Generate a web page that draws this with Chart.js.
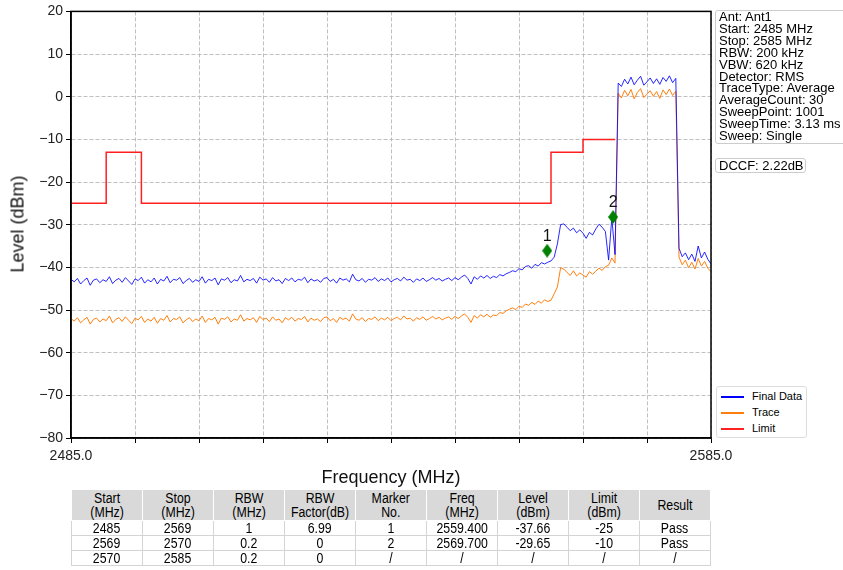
<!DOCTYPE html>
<html lang="en">
<head>
<meta charset="UTF-8">
<title>Spectrum Plot</title>
<script src="https://cdn.jsdelivr.net/npm/chart.js"></script>
<style>
  * { margin: 0; padding: 0; box-sizing: border-box; }
  body { background: #fff; font-family: "Liberation Sans", Arial, sans-serif; color: #000; }
  #wrap { position: relative; width: 843px; height: 570px; overflow: hidden; }
  #chart { position: absolute; left: 0; top: 0; }
  .ytitle { position: absolute; left: 18px; top: 224px; transform: translate(-50%, -50%) rotate(-90deg); font-size: 18px; white-space: nowrap; color: #111; }
  .xtitle { position: absolute; left: 391px; top: 477px; transform: translate(-50%, -50%); font-size: 18px; white-space: nowrap; color: #111; }
  .info { position: absolute; left: 715px; top: 10px; width: 132px; height: 134px; border: 1px solid #ccc; border-radius: 3px; font-size: 13px; line-height: 11.9px; padding: 0 0 0 3px; white-space: nowrap; }
  .dccf { position: absolute; left: 715px; top: 158px; width: 91px; height: 15px; border: 1px solid #ccc; border-radius: 3px; font-size: 13px; line-height: 13px; padding-left: 3px; white-space: nowrap; }
  .legend { position: absolute; left: 716px; top: 386px; width: 91px; height: 52px; border: 1px solid #ddd; border-radius: 3px; font-size: 11px; background: #fff; }
  .legend div { position: absolute; left: 4px; height: 12px; line-height: 12px; white-space: nowrap; }
  .legend span { display: inline-block; width: 23px; height: 1.5px; vertical-align: middle; margin-right: 8px; }
  table.res { position: absolute; left: 71px; top: 489px; width: 640px; border-collapse: collapse; table-layout: fixed; font-size: 14px; }
  table.res th { background: #d9d9d9; height: 31px; border: 1px solid #fff; font-weight: normal; line-height: 14px; }
  table.res td { height: 15px; border: 1px solid #d4d4d4; text-align: center; line-height: 13px; }
  table.res th span, table.res td span { display: inline-block; transform: scaleX(0.88); }
</style>
</head>
<body>
<div id="wrap">
  <canvas id="chart" width="843" height="570"></canvas>
  <div class="ytitle">Level (dBm)</div>
  <div class="xtitle">Frequency (MHz)</div>
  <div class="info">Ant: Ant1<br>Start: 2485 MHz<br>Stop: 2585 MHz<br>RBW: 200 kHz<br>VBW: 620 kHz<br>Detector: RMS<br>TraceType: Average<br>AverageCount: 30<br>SweepPoint: 1001<br>SweepTime: 3.13 ms<br>Sweep: Single</div>
  <div class="dccf">DCCF: 2.22dB</div>
  <div class="legend">
    <div style="top:3px"><span style="background:#0000ff"></span>Final Data</div>
    <div style="top:19px"><span style="background:#ff7f0e"></span>Trace</div>
    <div style="top:35px"><span style="background:#ff2020"></span>Limit</div>
  </div>
  <table class="res" id="res"></table>
</div>
<script>
// sweep sampling (MHz)
const FREQ_START = 2485;
const FREQ_STEP = 0.5;

// Final Data (dBm), one value per 0.5 MHz from 2485 to 2585
const finalData = [
  -42.8, -43.4, -42.6, -43.9, -43.1, -42.5, -44.2, -43.0, -42.7, -43.6,
  -42.9, -43.3, -42.2, -43.8, -43.0, -42.6, -43.5, -42.4, -43.2, -44.0,
  -42.7, -43.1, -42.3, -43.7, -42.9, -43.4, -42.5, -43.9, -42.8, -43.2,
  -42.1, -43.6, -42.8, -43.0, -42.4, -43.8, -43.1, -42.6, -43.5, -42.9,
  -43.3, -42.2, -43.7, -42.8, -43.1, -42.5, -44.1, -42.7, -43.0, -42.4,
  -43.6, -42.9, -43.2, -41.9, -43.4, -42.8, -43.1, -42.6, -43.7, -42.3,
  -43.0, -42.7, -43.5, -42.4, -43.2, -42.9, -43.8, -42.6, -43.1, -42.5,
  -43.4, -42.8, -43.0, -42.3, -43.6, -42.7, -43.2, -42.9, -43.5, -42.6,
  -42.4, -43.3, -42.8, -43.7, -42.5, -43.0, -42.7, -43.4, -41.6, -42.9,
  -43.2, -42.6, -43.5, -42.8, -43.0, -42.4, -43.3, -42.7, -43.1, -42.5,
  -43.4, -42.9, -42.6, -43.2, -42.3, -43.0, -42.8, -43.5, -42.7, -43.1,
  -42.5, -43.3, -42.9, -42.4, -43.0, -42.6, -43.2, -42.8, -42.5, -43.1,
  -42.4, -42.9, -42.3, -41.8, -42.6, -43.9, -42.2, -42.8, -42.0, -42.5,
  -41.9, -42.6, -42.1, -42.4, -41.7, -42.0, -41.5, -41.2, -40.8, -41.0,
  -40.3, -40.6, -39.8, -39.6, -40.2, -39.3, -39.7, -38.9, -39.2, -38.8,
  -38.5, -37.6, -34.5, -30.0, -29.8, -30.6, -31.4, -30.8, -31.9, -31.2,
  -32.0, -33.2, -31.8, -32.4, -31.0, -29.9, -30.6, -31.6, -38.3, -28.4,
  -37.0, 3.2, 2.4, 4.1, 3.0, 4.6, 2.8, 3.9, 4.8, 2.7,
  3.5, 4.4, 3.1, 4.2, 2.9, 4.5, 3.6, 4.9, 3.3, 4.3,
  -35.5, -37.5, -36.6, -38.2, -36.9, -38.6, -35.0, -37.8, -36.4, -38.1,
  -39.2
];

// Trace (dBm), same sampling
const traceData = [
  -52.0, -52.6, -51.8, -53.0, -52.3, -51.7, -53.3, -52.2, -51.9, -52.8,
  -52.1, -52.5, -51.4, -53.0, -52.2, -51.8, -52.7, -51.6, -52.4, -53.2,
  -51.9, -52.3, -51.5, -52.9, -52.1, -52.6, -51.7, -53.1, -52.0, -52.4,
  -51.3, -52.8, -52.0, -52.2, -51.6, -53.0, -52.3, -51.8, -52.7, -52.1,
  -52.5, -51.4, -52.9, -52.0, -52.3, -51.7, -53.3, -51.9, -52.2, -51.6,
  -52.8, -52.1, -52.4, -51.1, -52.6, -52.0, -52.3, -51.8, -52.9, -51.5,
  -52.2, -51.9, -52.7, -51.6, -52.4, -52.1, -53.0, -51.8, -52.3, -51.7,
  -52.6, -52.0, -52.2, -51.5, -52.8, -51.9, -52.4, -52.1, -52.7, -51.8,
  -51.6, -52.5, -52.0, -52.9, -51.7, -52.2, -51.9, -52.6, -50.9, -52.1,
  -52.4, -51.8, -52.7, -52.0, -52.2, -51.6, -52.5, -51.9, -52.3, -51.7,
  -52.5, -52.0, -51.7, -52.3, -51.4, -52.1, -51.9, -52.6, -51.8, -52.2,
  -51.6, -52.4, -52.0, -51.5, -52.1, -51.7, -52.3, -51.9, -51.6, -52.2,
  -51.5, -52.0, -51.4, -50.9, -51.7, -52.9, -51.3, -51.9, -51.1, -51.6,
  -51.0, -51.7, -51.2, -51.3, -50.6, -50.8, -50.2, -49.8, -49.5, -49.9,
  -49.1, -49.4, -48.6, -48.9, -48.2, -48.7, -47.9, -48.4, -47.6, -48.0,
  -47.7, -46.2, -44.6, -40.1, -40.4, -41.2, -41.9, -40.8, -42.0, -41.3,
  -41.8, -42.3, -41.0, -41.6, -40.9, -40.2, -40.7, -39.8, -39.5, -37.8,
  -39.0, 0.8, -0.3, 1.5, 0.2, 1.7, -0.5, 1.0, 1.9, -0.2,
  0.6, 1.4, 0.1, 1.2, -0.4, 1.6, 0.5, 1.8, 0.3, 1.3,
  -37.6, -39.4, -38.3, -40.1, -38.8, -40.4, -37.9, -39.7, -38.6, -40.2,
  -41.0
];

// limit line corners
const limitFreq  = [2485, 2490.5, 2490.5, 2496, 2496, 2560, 2560, 2565, 2565, 2570];
const limitLevel = [-25,  -25,    -13,    -13,  -25,  -25,  -13,  -13,  -10,  -10];

// markers
const markerFreq  = [2559.4, 2569.7];
const markerLevel = [-36.1, -28.2];
const markerLabel = ['1', '2'];

const xTicks = [2485, 2495, 2505, 2515, 2525, 2535, 2545, 2555, 2565, 2575, 2585];
const yTicks = [-80, -70, -60, -50, -40, -30, -20, -10, 0, 10, 20];

// result table
const tableHead = ['Start<br>(MHz)', 'Stop<br>(MHz)', 'RBW<br>(MHz)', 'RBW<br>Factor(dB)', 'Marker<br>No.', 'Freq<br>(MHz)', 'Level<br>(dBm)', 'Limit<br>(dBm)', 'Result'];
const tableRows = [
  ['2485', '2569', '1', '6.99', '1', '2559.400', '-37.66', '-25', 'Pass'],
  ['2569', '2570', '0.2', '0', '2', '2569.700', '-29.65', '-10', 'Pass'],
  ['2570', '2585', '0.2', '0', '/', '/', '/', '/', '/']
];

document.getElementById('res').innerHTML =
  '<tr>' + tableHead.map(h => `<th><span>${h}</span></th>`).join('') + '</tr>' +
  tableRows.map(r => '<tr>' + r.map(c => `<td><span>${c}</span></td>`).join('') + '</tr>').join('');

const toPoints = arr => arr.map((v, i) => ({ x: FREQ_START + i * FREQ_STEP, y: v }));

// thin diamond for the markers
const diamond = document.createElement('canvas');
diamond.width = 10; diamond.height = 14;
(function () {
  const c = diamond.getContext('2d');
  c.fillStyle = '#008000';
  c.beginPath();
  c.moveTo(5, 0); c.lineTo(10, 7); c.lineTo(5, 14); c.lineTo(0, 7);
  c.closePath(); c.fill();
})();

const frame = {
  id: 'frame',
  afterDatasetsDraw(chart) {
    const { ctx, chartArea: a, scales } = chart;
    ctx.save();
    ctx.strokeStyle = '#000';
    ctx.lineWidth = 1.5;
    ctx.strokeRect(a.left, a.top, a.right - a.left, a.bottom - a.top);
    ctx.fillStyle = '#111';
    ctx.font = '16px "Liberation Sans", Arial, sans-serif';
    ctx.textAlign = 'center';
    ctx.textBaseline = 'bottom';
    markerFreq.forEach((f, i) => {
      ctx.fillText(markerLabel[i], scales.x.getPixelForValue(f), scales.y.getPixelForValue(markerLevel[i]) - 6);
    });
    ctx.restore();
  }
};

const font = { family: '"Liberation Sans", Arial, sans-serif', size: 14 };

new Chart(document.getElementById('chart'), {
  type: 'scatter',
  data: {
    datasets: [
      { label: 'Markers', data: markerFreq.map((f, i) => ({ x: f, y: markerLevel[i] })), pointStyle: diamond, pointRadius: 7, showLine: false },
      { label: 'Final Data', data: toPoints(finalData), showLine: true, borderColor: 'rgba(0,0,255,0.85)', borderWidth: 1, pointRadius: 0 },
      { label: 'Trace', data: toPoints(traceData), showLine: true, borderColor: '#ff7f0e', borderWidth: 1, pointRadius: 0 },
      { label: 'Limit', data: limitFreq.map((f, i) => ({ x: f, y: limitLevel[i] })), showLine: true, borderColor: '#ff2020', borderWidth: 1.5, pointRadius: 0 }
    ]
  },
  options: {
    responsive: false,
    animation: false,
    events: [],
    layout: { padding: { left: 0, top: 10, right: 132, bottom: 0 } },
    plugins: { legend: { display: false }, tooltip: { enabled: false } },
    scales: {
      x: {
        type: 'linear', min: 2485, max: 2585,
        afterFit: s => { s.height = 132; },
        afterBuildTicks: s => { s.ticks = xTicks.map(v => ({ value: v })); },
        grid: { color: '#b0b0b0', lineWidth: 0.8, tickColor: '#000', tickLength: 5, tickWidth: 1, tickBorderDash: [] },
        border: { display: true, color: '#000', width: 1.5, dash: [4, 2] },
        ticks: {
          color: '#222', font, padding: 5, maxRotation: 0, autoSkip: false,
          callback: v => (v === 2485 || v === 2585) ? v.toFixed(1) : ''
        }
      },
      y: {
        min: -80, max: 20,
        afterFit: s => { s.width = 71; },
        afterBuildTicks: s => { s.ticks = yTicks.map(v => ({ value: v })); },
        grid: { color: '#b0b0b0', lineWidth: 0.8, tickColor: '#000', tickLength: 5, tickWidth: 1, tickBorderDash: [] },
        border: { display: true, color: '#000', width: 1.5, dash: [4, 2] },
        ticks: { color: '#222', font, padding: 3, callback: v => String(v).replace('-', '\u2212') }
      }
    }
  },
  plugins: [frame]
});
</script>
</body>
</html>
